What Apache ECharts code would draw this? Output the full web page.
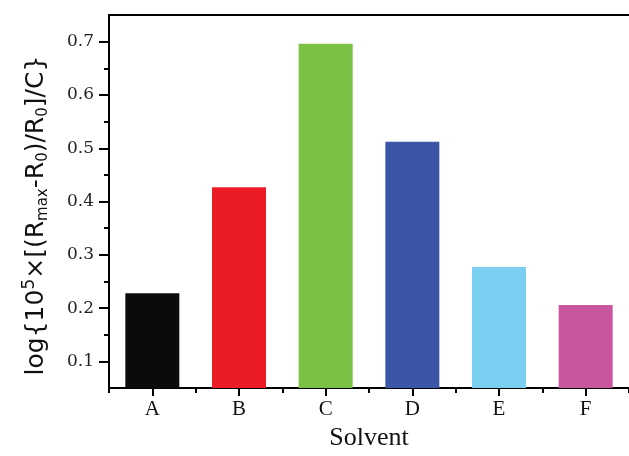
<!DOCTYPE html>
<html>
<head>
<meta charset="utf-8">
<script src="https://cdn.jsdelivr.net/npm/echarts@6/dist/echarts.min.js"></script>
<style>html,body{margin:0;padding:0;background:#fff}#c{width:629px;height:456px}</style>
</head>
<body>
<div id="c"></div>
<script>
const categories = ['A', 'B', 'C', 'D', 'E', 'F'];
const values = [0.228, 0.427, 0.696, 0.512, 0.277, 0.206];
const barColors = ['#0b0b0b', '#ec1c27', '#7bc144', '#3b56a7', '#7bcff0', '#c9559f'];
const yMajorTicks = [0.1, 0.2, 0.3, 0.4, 0.5, 0.6, 0.7];
const yMinorTicks = [0.15, 0.25, 0.35, 0.45, 0.55, 0.65];
const yMin = 0.05, yMax = 0.75;

const chart = echarts.init(document.getElementById('c'), null, {renderer: 'canvas'});
const serif = '"Liberation Serif", "Times New Roman", serif';
const wideSerif = '"DejaVu Serif", serif';
const sans = '"DejaVu Sans", Arial, sans-serif';
const lineStyle = {color: '#000', width: 2};

chart.setOption({
  animation: false,
  backgroundColor: '#fff',
  grid: {left: 109, right: 0, top: 15, bottom: 60},
  xAxis: [
    {
      type: 'category', data: categories, position: 'bottom',
      axisLine: {show: true, lineStyle: lineStyle},
      axisTick: {show: true, alignWithLabel: true, length: 8, lineStyle: lineStyle},
      axisLabel: {color: '#111', fontFamily: serif, fontSize: 21, margin: 11},
      name: 'Solvent', nameLocation: 'middle', nameGap: 30,
      nameTextStyle: {color: '#111', fontFamily: serif, fontSize: 26}
    },
    {
      type: 'category', data: categories, position: 'bottom',
      axisLine: {show: false},
      axisTick: {show: true, alignWithLabel: false, length: 5, lineStyle: lineStyle},
      axisLabel: {show: false}
    },
    {
      type: 'category', data: categories, position: 'top',
      axisLine: {show: true, lineStyle: lineStyle},
      axisTick: {show: false}, axisLabel: {show: false}
    }
  ],
  yAxis: [
    {
      type: 'value', min: yMin, max: yMax, position: 'left',
      splitLine: {show: false},
      axisLine: {show: true, lineStyle: lineStyle},
      axisTick: {show: true, length: 10, lineStyle: lineStyle, customValues: yMajorTicks},
      axisLabel: {color: '#222', fontFamily: wideSerif, fontSize: 17, margin: 15,
        customValues: yMajorTicks, formatter: v => v.toFixed(1)},
      name: '{n|log{10}{sup|5}{n|×[(R}{sub|max}{n|-R}{sub|0}{n|)/R}{sub|0}{n|]/C}}',
      nameLocation: 'middle', nameRotate: 90, nameGap: 58,
      nameTextStyle: {
        color: '#111', fontFamily: sans, fontSize: 25, lineHeight: 30,
        padding: [0, 28, 0, 0],
        rich: {
          n: {fontFamily: sans, fontSize: 25, color: '#111', lineHeight: 30},
          sup: {fontFamily: sans, fontSize: 17, color: '#111', verticalAlign: 'top', lineHeight: 18},
          sub: {fontFamily: sans, fontSize: 15, color: '#111', verticalAlign: 'bottom', lineHeight: 16}
        }
      }
    },
    {
      type: 'value', min: yMin, max: yMax, position: 'left',
      splitLine: {show: false}, axisLine: {show: false},
      axisTick: {show: true, length: 5, lineStyle: lineStyle, customValues: yMinorTicks},
      axisLabel: {show: false}
    }
  ],
  series: [{
    type: 'bar', xAxisIndex: 0, yAxisIndex: 0,
    barWidth: 54,
    data: values.map((v, i) => ({value: v, itemStyle: {color: barColors[i]}}))
  }]
});
</script>
</body>
</html>
